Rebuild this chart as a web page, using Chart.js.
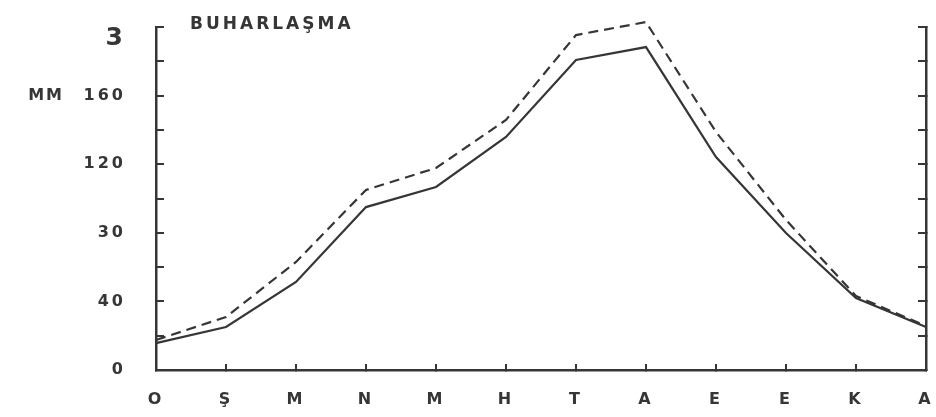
<!DOCTYPE html>
<html>
<head>
<meta charset="utf-8">
<script src="https://cdn.jsdelivr.net/npm/chart.js@4/dist/chart.umd.min.js"></script>
<style>
  html, body { margin: 0; padding: 0; background: #ffffff; }
  #wrap { width: 936px; height: 417px; }
</style>
</head>
<body>
<div id="wrap"><canvas id="c" width="936" height="417"></canvas></div>
<script>
// Monthly evaporation (mm), two series
const months = ['O', 'Ş', 'M', 'N', 'M', 'H', 'T', 'A', 'E', 'E', 'K', 'A'];
const evapSolid = [15.7, 25.1, 51.3, 95, 106.7, 135.9, 180.8, 188.3, 124.2, 79.9, 42, 25.1];
const evapDashed = [17.5, 30.9, 63, 105, 117.8, 145.8, 195.3, 202.9, 138.8, 87.5, 43.1, 25.7];
const yTickValues = [0, 40, 80, 120, 160, 200];
const yTickLabels = ['0', '40', '30', '120', '160', '3'];
const chartTitle = 'BUHARLAŞMA';
const unitLabel = 'MM';

const INK = '#363636';
const FAMILY = '"DejaVu Sans", sans-serif';

// Letter-spaced lettering, title and unit label
const lettering = {
  id: 'lettering',
  beforeDraw(chart) {
    chart.ctx.letterSpacing = '3px';
  },
  afterDraw(chart) {
    const ctx = chart.ctx;
    ctx.save();
    ctx.fillStyle = INK;
    ctx.textBaseline = 'middle';
    ctx.font = 'bold 17px ' + FAMILY;
    ctx.letterSpacing = '3px';
    ctx.textAlign = 'left';
    ctx.fillText(chartTitle, 190, 25);
    ctx.font = 'bold 16px ' + FAMILY;
    ctx.letterSpacing = '2px';
    ctx.textAlign = 'right';
    ctx.fillText(unitLabel, 64, chart.scales.y.getPixelForValue(160));
    ctx.restore();
    ctx.letterSpacing = '0px';
  }
};

// Fixed box sizes so the plot area stays put regardless of label extents
function fixBox(size) {
  return function (s) {
    if (s.isHorizontal()) s.height = size; else s.width = size;
    s.paddingTop = 0;
    s.paddingBottom = 0;
    s.paddingLeft = 0;
    s.paddingRight = 0;
  };
}

const axisLine = { color: INK, width: 2.5 };
const tickFont = { family: FAMILY, size: 16, weight: 'bold' };

new Chart(document.getElementById('c'), {
  type: 'line',
  data: {
    labels: months,
    datasets: [
      {
        data: evapSolid,
        borderColor: INK,
        borderWidth: 2.2,
        pointRadius: 0,
        tension: 0,
        clip: false
      },
      {
        data: evapDashed,
        borderColor: INK,
        borderWidth: 2.2,
        borderDash: [10, 6],
        pointRadius: 0,
        tension: 0,
        clip: false
      }
    ]
  },
  options: {
    responsive: false,
    animation: false,
    layout: { padding: { top: 27, left: 0, right: 0, bottom: 0 } },
    plugins: {
      legend: { display: false },
      tooltip: { enabled: false },
      title: { display: false }
    },
    scales: {
      x: {
        type: 'category',
        offset: false,
        grid: { drawOnChartArea: false, drawTicks: true, tickLength: -6, color: INK, lineWidth: 2 },
        border: axisLine,
        ticks: { padding: 26, color: INK, font: tickFont, autoSkip: false, maxRotation: 0 },
        afterFit: fixBox(47)
      },
      y: {
        position: 'left',
        min: 0,
        max: 200,
        grid: { drawOnChartArea: false, drawTicks: true, tickLength: -8, color: INK, lineWidth: 2 },
        border: axisLine,
        ticks: {
          stepSize: 20,
          autoSkip: false,
          padding: 38,
          color: INK,
          font(ctx) {
            if (ctx.tick && ctx.tick.value === 200) {
              return { family: FAMILY, size: 25, weight: 'bold', lineHeight: 0.9 };
            }
            return tickFont;
          },
          callback(value) {
            const i = yTickValues.indexOf(value);
            if (i < 0) return '';
            return value === 200 ? ['', yTickLabels[i]] : yTickLabels[i];
          }
        },
        afterFit: fixBox(156)
      },
      y2: {
        position: 'right',
        min: 0,
        max: 200,
        grid: { drawOnChartArea: false, drawTicks: true, tickLength: -8, color: INK, lineWidth: 2 },
        border: axisLine,
        ticks: { stepSize: 20, autoSkip: false, display: false },
        afterFit: fixBox(10)
      }
    }
  },
  plugins: [lettering]
});
</script>
</body>
</html>
